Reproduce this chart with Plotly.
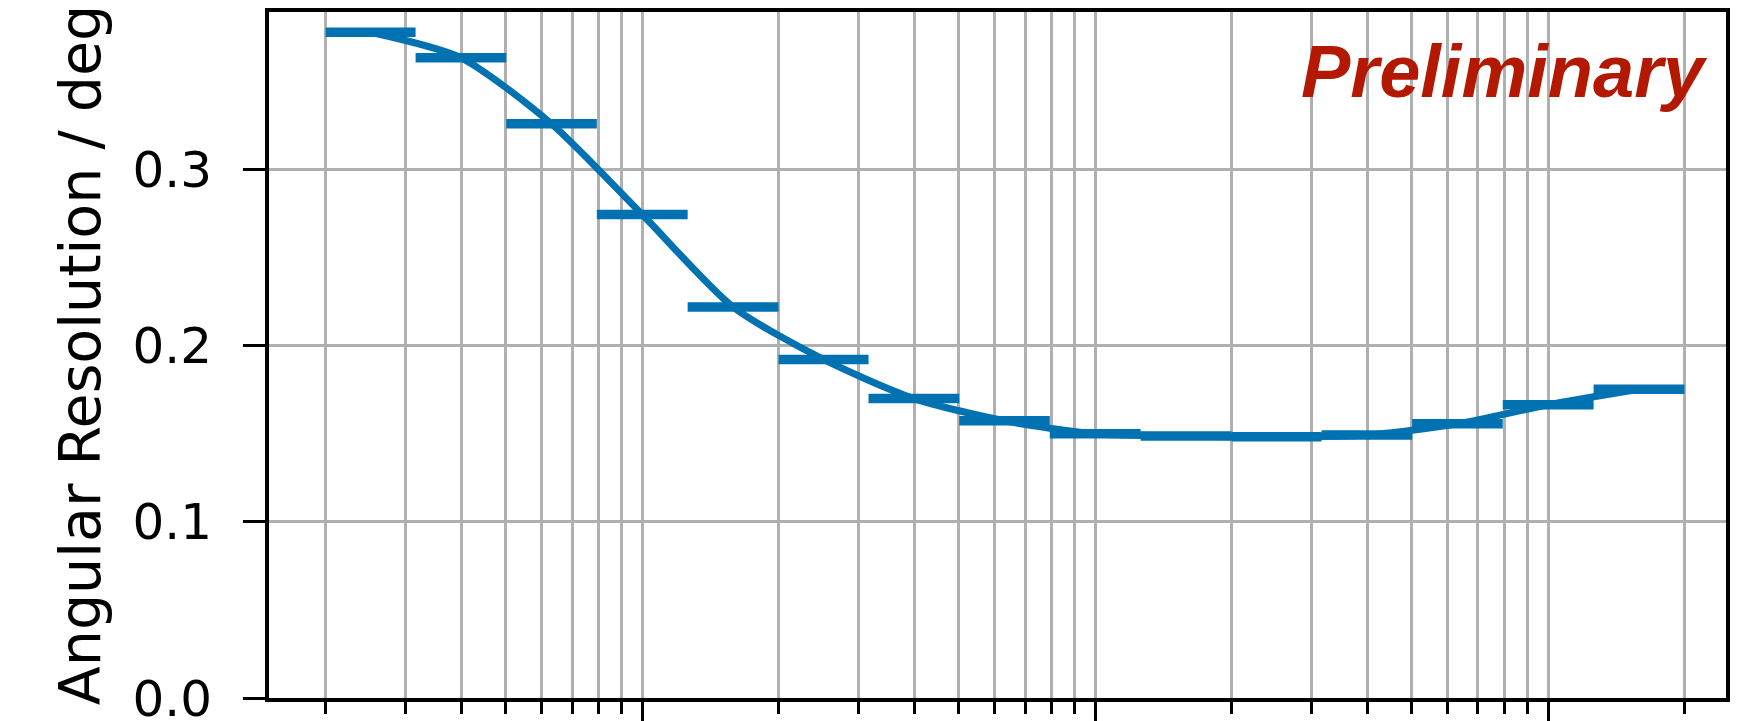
import numpy as np
import plotly.graph_objects as go

# Energy bins (5 per decade) and the angular resolution measured in each bin
bin_edges = [0.2, 0.316, 0.501, 0.794, 1.26, 2.0, 3.16, 5.01, 7.94,
             12.6, 20.0, 31.6, 50.1, 79.4, 126.0, 200.0]
resolution_deg = [0.378, 0.3635, 0.326, 0.2745, 0.222, 0.1922, 0.170, 0.1574,
                  0.1500, 0.1488, 0.1483, 0.1493, 0.1557, 0.1665, 0.1753]
y_ticks = [0.0, 0.1, 0.2, 0.3]

BLUE = "#0072B2"
GRID = "#b0b0b0"
FONT = "DejaVu Sans"

edges = np.array(bin_edges)
lo, hi = edges[:-1], edges[1:]
centers = np.sqrt(lo * hi)

# log-axis grid: decades as major ticks, 2..9 multiples as minor ticks
x_min, x_max = 0.15, 247.0
decades = [10.0 ** k for k in range(-1, 3)]
major_vals = [d for d in decades if x_min <= d <= x_max]
minor_vals = [m * d for d in decades for m in range(2, 10) if x_min <= m * d <= x_max]

fig = go.Figure()

fig.add_trace(go.Scatter(
    x=centers, y=resolution_deg, mode="markers",
    marker=dict(size=0, color=BLUE),
    error_x=dict(type="data", symmetric=False,
                 array=hi - centers, arrayminus=centers - lo,
                 thickness=9.5, width=0, color=BLUE),
    showlegend=False, hoverinfo="skip",
))

fig.add_trace(go.Scatter(
    x=centers, y=resolution_deg, mode="lines",
    line=dict(color=BLUE, width=7, shape="spline", smoothing=0.7),
    showlegend=False,
))

fig.add_annotation(
    text="Preliminary", xref="paper", yref="y", x=1, y=0.356,
    xanchor="right", yanchor="middle", xshift=-16, showarrow=False,
    font=dict(family="Liberation Sans", size=74, color="#B31800",
              weight="bold", style="italic"),
)

fig.update_xaxes(
    type="log", range=[np.log10(x_min), np.log10(x_max)],
    tickmode="array", tickvals=major_vals, showticklabels=False,
    ticks="outside", ticklen=26, tickwidth=3, tickcolor="black",
    showgrid=True, gridcolor=GRID, gridwidth=3,
    minor=dict(tickmode="array", tickvals=minor_vals, ticks="outside",
               ticklen=12, tickwidth=2.5, tickcolor="black",
               showgrid=True, gridcolor=GRID, gridwidth=3),
    showline=True, linecolor="black", linewidth=4, mirror=True,
    zeroline=False,
)

fig.update_yaxes(
    range=[0, 0.3895], tickmode="array", tickvals=y_ticks,
    ticktext=[f"{v:.1f}" for v in y_ticks],
    ticks="outside", ticklen=22, tickwidth=3, tickcolor="black",
    ticklabelstandoff=21, ticklabeloverflow="allow",
    tickfont=dict(family=FONT, size=50, color="black"),
    showgrid=True, gridcolor=GRID, gridwidth=3,
    showline=True, linecolor="black", linewidth=4, mirror=True,
    zeroline=False,
    title=dict(text="Angular Resolution / deg",
               font=dict(family=FONT, size=57, color="black"), standoff=15),
)

fig.update_layout(
    width=1742, height=721,
    margin=dict(l=269, r=16, t=12, b=23, autoexpand=False),
    paper_bgcolor="white", plot_bgcolor="white",
)

fig.write_html("out.html")
